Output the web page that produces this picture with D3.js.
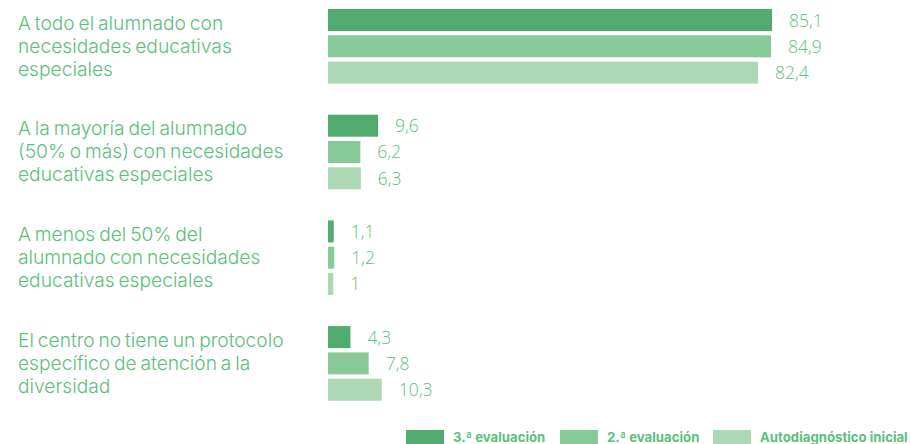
<!DOCTYPE html>
<html>
<head>
<meta charset="utf-8">
<script src="https://d3js.org/d3.v7.min.js"></script>
<style>
body { margin: 0; background: #fff; }
svg text { fill: #5cbf7b; }
.cat { font-family: Inter, "Open Sans", sans-serif; font-size: 19.2px; font-weight: 300; word-spacing: -1.5px; }
.val { font-family: "Open Sans", sans-serif; font-size: 17.5px; font-weight: 300; }
.leg { font-family: Inter, sans-serif; font-size: 13.2px; font-weight: 700; }
</style>
</head>
<body>
<svg id="chart" width="911" height="444"></svg>
<script>
// categories, one per group (lines as shown)
var categories = [
  ["A todo el alumnado con", "necesidades educativas", "especiales"],
  ["A la mayoría del alumnado", "(50% o más) con necesidades", "educativas especiales"],
  ["A menos del 50% del", "alumnado con necesidades", "educativas especiales"],
  ["El centro no tiene un protocolo", "específico de atención a la", "diversidad"]
];
var series = ["3.ª evaluación", "2.ª evaluación", "Autodiagnóstico inicial"];
var tercera = [85.1, 9.6, 1.1, 4.3];
var segunda = [84.9, 6.2, 1.2, 7.8];
var inicial = [82.4, 6.3, 1.0, 10.3];
var colors = ["#52ab6e", "#87ca98", "#add8b6"];

var values = [tercera, segunda, inicial];
var svg = d3.select("#chart");

var y0 = d3.scaleBand().domain(d3.range(categories.length)).range([9, 400.7]).paddingInner(0.294).paddingOuter(0);
var y1 = d3.scaleBand().domain(d3.range(series.length)).range([0, y0.bandwidth()]).paddingInner(0.163).paddingOuter(0);
var x = d3.scaleLinear().domain([0, 100]).range([328, 849.8]);

var fmt = function(v) { return (v % 1 === 0 ? d3.format("d")(v) : d3.format(".1f")(v)).replace(".", ","); };

var groups = svg.selectAll("g.group").data(categories).enter().append("g")
  .attr("class", "group")
  .attr("transform", function(d, i) { return "translate(0," + y0(i) + ")"; });

// category labels
groups.append("text")
  .attr("class", "cat")
  .attr("x", 18)
  .attr("y", 20.5)
  .selectAll("tspan").data(function(d) { return d; }).enter().append("tspan")
  .attr("x", 18)
  .attr("dy", function(d, i) { return i === 0 ? 0 : 23; })
  .text(function(d) { return d; });

// bars
groups.each(function(d, gi) {
  var g = d3.select(this);
  series.forEach(function(s, si) {
    var v = values[si][gi];
    g.append("rect")
      .attr("x", x(0))
      .attr("y", y1(si))
      .attr("width", x(v) - x(0))
      .attr("height", y1.bandwidth())
      .attr("fill", colors[si]);
    g.append("text")
      .attr("class", "val")
      .attr("x", x(v) + 17)
      .attr("y", y1(si) + y1.bandwidth() / 2 + 6.5)
      .text(fmt(v));
  });
});

// legend
var legX = [406, 560, 713];
var legend = svg.selectAll("g.legend").data(series).enter().append("g")
  .attr("class", "legend")
  .attr("transform", function(d, i) { return "translate(" + legX[i] + ",430)"; });
legend.append("rect")
  .attr("width", 38).attr("height", 14)
  .attr("fill", function(d, i) { return colors[i]; });
legend.append("text")
  .attr("class", "leg")
  .attr("x", 47).attr("y", 12)
  .text(function(d) { return d; });
</script>
</body>
</html>
